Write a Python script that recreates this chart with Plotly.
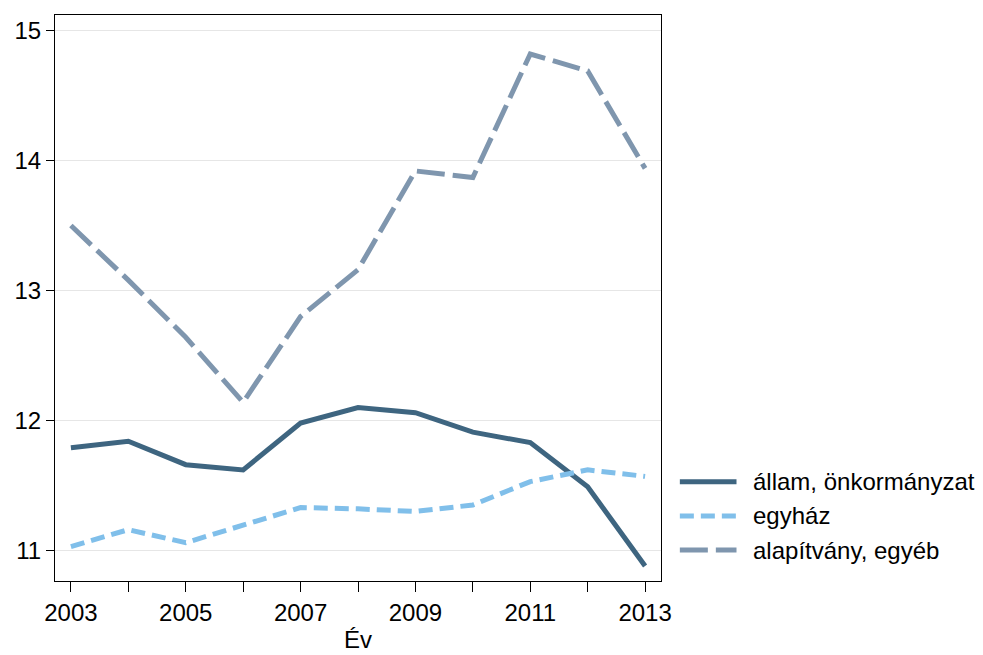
import plotly.graph_objects as go

years = list(range(2003, 2014))
allam = [11.79, 11.84, 11.66, 11.62, 11.98, 12.10, 12.06, 11.91, 11.83, 11.49, 10.88]
egyhaz = [11.03, 11.16, 11.06, 11.19, 11.33, 11.32, 11.30, 11.35, 11.53, 11.62, 11.57]
alapitvany = [13.50, 13.08, 12.64, 12.14, 12.80, 13.16, 13.92, 13.87, 14.82, 14.69, 13.94]
names = ["állam, önkormányzat", "egyház", "alapítvány, egyéb"]
x_ticktext = [str(y) if y % 2 == 1 else "" for y in years]
y_ticks = [11, 12, 13, 14, 15]

FONT = "Liberation Sans, Arial, sans-serif"
colors = ["#3e6580", "#80bfea", "#7f96ae"]
dashes = ["solid", "14px,7px", "28px,8px"]
series = [allam, egyhaz, alapitvany]

fig = go.Figure()
for name, vals, c, d in zip(names, series, colors, dashes):
    fig.add_trace(go.Scatter(x=years, y=vals, mode="lines", name=name,
                             showlegend=False,
                             line=dict(color=c, width=5, dash=d)))

# custom legend (line samples + labels) placed right of the plot area
leg_y = [0.1755, 0.1150, 0.0546]
for name, c, d, yy in zip(names, colors, dashes, leg_y):
    fig.add_shape(type="line", xref="paper", yref="paper",
                  x0=1.0311, x1=1.1246, y0=yy, y1=yy,
                  line=dict(color=c, width=5, dash=d))
    fig.add_annotation(xref="paper", yref="paper", x=1.1492, y=yy,
                       xanchor="left", yanchor="middle", text=name,
                       showarrow=False, font=dict(size=24, color="black"))

fig.update_layout(
    width=975, height=647,
    margin=dict(l=43, r=322, t=6, b=73),
    paper_bgcolor="white", plot_bgcolor="white",
    font=dict(family=FONT, size=24, color="black"),
    showlegend=False,
    xaxis=dict(range=[2002.723, 2013.277], tickvals=years, ticktext=x_ticktext,
               ticks="outside", ticklen=10, tickcolor="black", tickwidth=1,
               showline=True, linecolor="black", linewidth=1, mirror=True,
               showgrid=False, zeroline=False,
               title=dict(text="Év", font=dict(size=24), standoff=6)),
    yaxis=dict(range=[10.765, 15.12], tickvals=y_ticks,
               ticks="outside", ticklen=8, tickcolor="black", tickwidth=1,
               showline=True, linecolor="black", linewidth=1, mirror=True,
               showgrid=True, gridcolor="#e6e6e6", gridwidth=1, zeroline=False),
)

fig.write_html("out.html")
